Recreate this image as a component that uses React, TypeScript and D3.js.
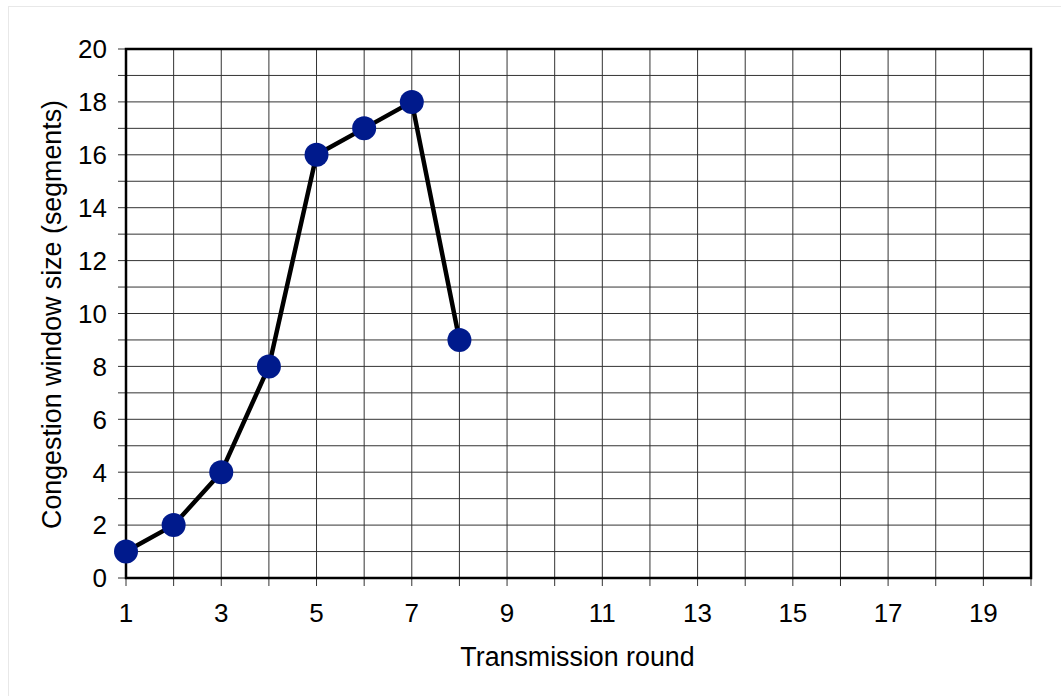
import React from "react";
import * as d3 from "d3";

const rounds = [1, 2, 3, 4, 5, 6, 7, 8];
const cwnd = [1, 2, 4, 8, 16, 17, 18, 9];
const xTickLabels = [1, 3, 5, 7, 9, 11, 13, 15, 17, 19];
const yTickLabels = [0, 2, 4, 6, 8, 10, 12, 14, 16, 18, 20];
const xTitle = "Transmission round";
const yTitle = "Congestion window size (segments)";

const W = 1061;
const H = 696;
const M = { left: 126, right: 1031, top: 49, bottom: 578 };

export default function App() {
  const x = d3.scaleLinear().domain([1, 20]).range([M.left, M.right]);
  const y = d3.scaleLinear().domain([0, 20]).range([M.bottom, M.top]);
  const xGrid = d3.range(1, 21);
  const yGrid = d3.range(0, 21);
  const line = d3
    .line<number>()
    .x((_, i) => x(rounds[i]))
    .y((d) => y(d));
  const font = "'Liberation Sans', Arial, sans-serif";

  return (
    <svg
      width={W}
      height={H}
      style={{ position: "absolute", left: 0, top: 0, background: "#fff" }}
      fontFamily={font}
    >
      <rect x={8.5} y={6.5} width={1200} height={800} fill="#fff" stroke="#e8e8e8" strokeWidth={1} />
      {xGrid.map((v) => (
        <line key={"xg" + v} x1={x(v)} x2={x(v)} y1={M.top} y2={M.bottom + 8} stroke="#333" strokeWidth={1} />
      ))}
      {yGrid.map((v) => (
        <line key={"yg" + v} x1={M.left - 8} x2={M.right} y1={y(v)} y2={y(v)} stroke="#333" strokeWidth={1} />
      ))}
      <rect
        x={M.left}
        y={M.top}
        width={M.right - M.left}
        height={M.bottom - M.top}
        fill="none"
        stroke="#000"
        strokeWidth={2.5}
      />
      {yTickLabels.map((v) => (
        <text key={"yl" + v} x={107} y={y(v)} dy="0.36em" textAnchor="end" fontSize={26} fill="#000">
          {v}
        </text>
      ))}
      {xTickLabels.map((v) => (
        <text key={"xl" + v} x={x(v)} y={622} textAnchor="middle" fontSize={26} fill="#000">
          {v}
        </text>
      ))}
      <text x={(M.left + M.right) / 2 - 1} y={666} textAnchor="middle" fontSize={26.8} fill="#000">
        {xTitle}
      </text>
      <text
        transform={`translate(61, ${(M.top + M.bottom) / 2 + 1}) rotate(-90)`}
        textAnchor="middle"
        fontSize={26.8}
        fill="#000"
      >
        {yTitle}
      </text>
      <path d={line(cwnd) || ""} fill="none" stroke="#000" strokeWidth={4.5} strokeLinejoin="round" />
      {cwnd.map((v, i) => (
        <circle key={"pt" + i} cx={x(rounds[i])} cy={y(v)} r={12} fill="#001A8C" />
      ))}
    </svg>
  );
}
